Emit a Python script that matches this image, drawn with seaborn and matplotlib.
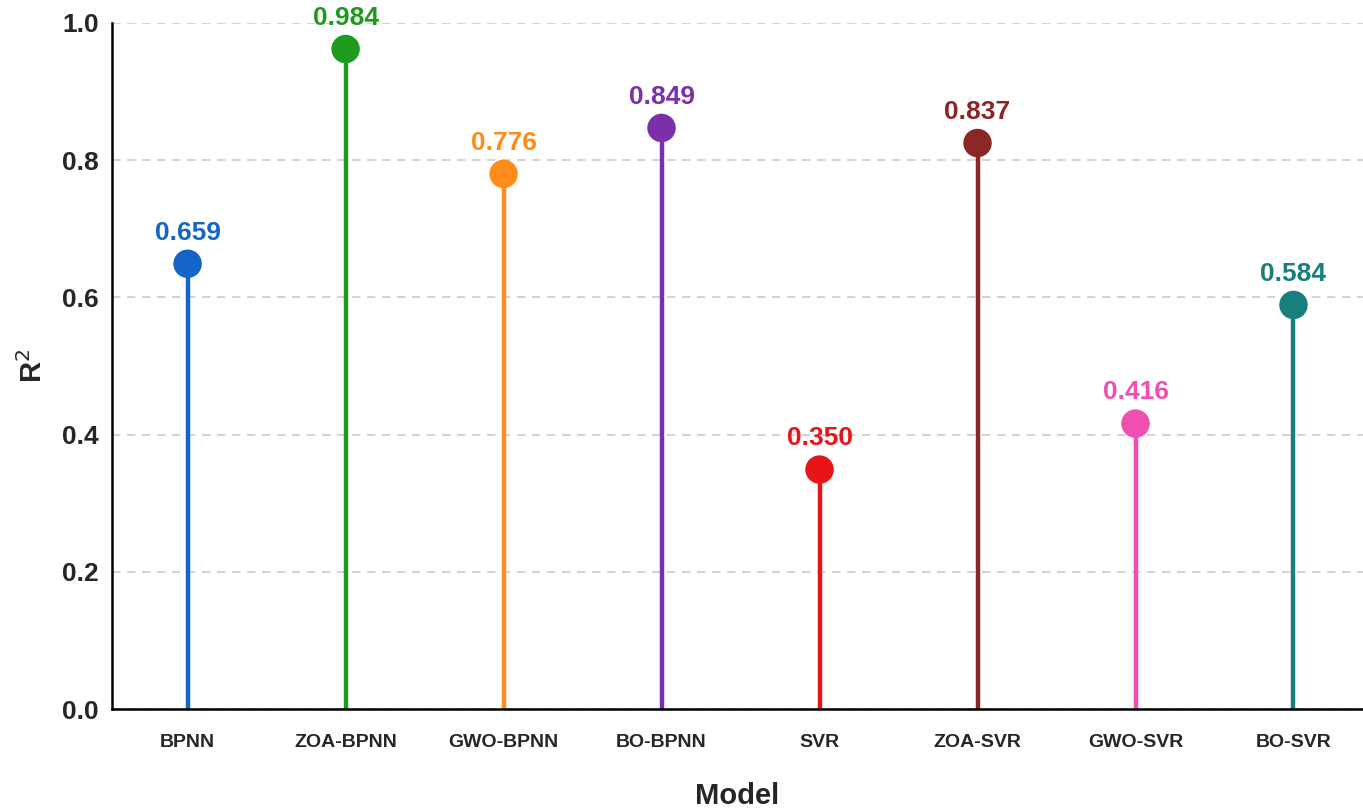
import matplotlib
matplotlib.use("Agg")
import matplotlib.pyplot as plt
import seaborn as sns
import pandas as pd

models = ["BPNN", "ZOA-BPNN", "GWO-BPNN", "BO-BPNN", "SVR", "ZOA-SVR", "GWO-SVR", "BO-SVR"]
r2_points = [0.649, 0.962, 0.780, 0.847, 0.349, 0.825, 0.416, 0.589]
r2_labels = ["0.659", "0.984", "0.776", "0.849", "0.350", "0.837", "0.416", "0.584"]
colors = ["#1565C8", "#1E9A1E", "#FF8C1A", "#7B2FA8", "#E8141A", "#8B2626", "#EE4FB0", "#17807E"]

sns.set_style("white")
plt.rcParams['font.family'] = ['Liberation Sans', 'DejaVu Sans']

df = pd.DataFrame({"Model": models, "R2": r2_points})
fig = plt.figure(figsize=(13.63, 8.09), dpi=100)
ax = fig.add_axes([0.082, 0.1236, 0.918, 0.848])

for i, (v, c, lab) in enumerate(zip(r2_points, colors, r2_labels)):
    ax.vlines(i, 0, v, color=c, lw=3.2, zorder=2)
    ax.text(i, v + 0.028, lab, ha="center", va="bottom", color=c,
            fontsize=19, fontweight="bold", clip_on=False)
sns.scatterplot(data=df, x="Model", y="R2", hue="Model", palette=colors,
                s=420, legend=False, ax=ax, zorder=3, edgecolor="none")

ax.set_xlim(-0.48, 7.44)
ax.set_ylim(0, 1.0)
ax.set_yticks([0, 0.2, 0.4, 0.6, 0.8, 1.0])
ax.set_yticklabels([f"{t:.1f}" for t in [0, 0.2, 0.4, 0.6, 0.8, 1.0]],
                   fontsize=19, fontweight="bold")
ax.set_xticks(range(len(models)))
ax.set_xticklabels(models, fontsize=14, fontweight="bold")
ax.grid(axis="y", ls=(0, (5, 4)), color="#cccccc", lw=1.2)
ax.set_axisbelow(True)
for s in ["top", "right"]:
    ax.spines[s].set_visible(False)
for s in ["left", "bottom"]:
    ax.spines[s].set_color("black")
    ax.spines[s].set_linewidth(1.8)
ax.tick_params(axis="both", length=6, width=1.5, color="black", direction="out")
ax.tick_params(axis="x", pad=12)
ax.set_xlabel("Model", fontsize=21, fontweight="bold", labelpad=22)
ax.set_ylabel("R$^{2}$", fontsize=21, fontweight="bold", labelpad=10)
fig.savefig("out.png", dpi=100)
